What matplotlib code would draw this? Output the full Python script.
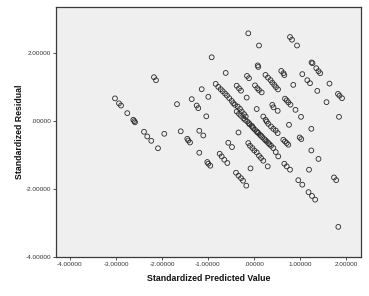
import matplotlib
matplotlib.use("Agg")
import matplotlib.pyplot as plt
from matplotlib.ticker import FuncFormatter

# Standardized predicted values (x) and standardized residuals (y)
pred = [
    -3.022, -2.935, -2.891, -2.754, -2.624, -2.602, -2.587, -2.391, -2.320, -2.233,
    -2.174, -2.130, -1.950, -2.087, -1.674, -1.593, -1.354, -1.246, -1.211, -1.137,
    -0.993, -1.037, -0.920, -0.615, -1.450, -1.428, -1.391, -1.189, -1.102, -1.189,
    -1.015, -0.993, -0.950, -0.559, -0.478, -0.746, -0.702, -0.646, -0.580, -0.391,
    -0.337, -0.283, -0.239, -0.167, -0.337, -0.124, -0.087, -0.037, -0.124, 0.109,
    0.783, 0.826, 0.935, 0.080, 0.093, -0.152, -0.109, 0.250, 0.304, 0.359,
    0.398, 0.441, 0.478, 0.522, 0.593, 0.641, 0.659, 1.050, 1.159, 1.217,
    1.641, 0.854, 1.376, 1.826, 1.859, 1.913, 1.250, 1.272, 1.354, 1.402,
    1.439, 1.576, -0.376, -0.326, -0.283, 0.022, 0.072, 0.109, 0.167, -0.159,
    0.674, 0.711, 0.746, 0.793, 0.398, 0.515, 0.059, 0.902, 1.022, 1.848,
    0.202, 0.254, 0.276, 0.311, 0.370, 0.420, 0.472, 0.515, 0.761, 1.246,
    0.637, 0.674, 0.711, 0.746, 0.993, 1.028, 0.007, 0.059, 0.109, 0.152,
    0.202, 0.298, -0.076, 0.659, 0.711, 0.783, 0.963, 1.050, 1.196, 1.185,
    1.261, 1.330, 1.246, 1.402, 1.739, 1.787, 1.833, 0.424,
    -0.376, -0.326, -0.283, -0.233, -0.196, -0.146, -0.109,
    -0.833, -0.776, -0.724, -0.680, -0.630, -0.587, -0.537, -0.485, -0.450, -0.413,
    -0.354, -0.304, -0.267, -0.217, -0.180,
    -0.050, -0.015, 0.022, 0.059, 0.093, 0.130, 0.180, 0.224, 0.276, 0.311,
    0.370, 0.420, 0.472, 0.528, -0.033, 0.076, 0.152, 0.250, 0.337, -0.098,
]
resid = [
    0.676, 0.529, 0.465, 0.241, 0.044, 0.006, -0.029, -0.309, -0.447, -0.574,
    1.300, 1.212, -0.368, -0.794, 0.506, -0.294, 0.653, 0.465, 0.388, 0.947,
    0.721, 0.147, 1.888, 1.426, -0.515, -0.565, -0.624, -0.279, -0.418, -0.926,
    -1.200, -1.250, -1.309, -0.632, -0.759, -0.956, -1.035, -1.132, -1.229, -1.515,
    -1.603, -1.676, -1.750, -1.897, -0.329, -0.641, -0.721, -0.788, 2.594, 2.235,
    2.485, 2.406, 2.235, 1.647, 1.603, 1.338, 1.271, 1.368, 1.288, 1.215,
    1.141, 1.074, 1.009, 0.941, 1.485, 1.418, 1.362, 1.391, 1.212, 1.124,
    1.112, 1.074, 0.897, 0.809, 0.756, 0.682, 1.735, 1.712, 1.565, 1.479,
    1.418, 0.565, 1.050, 0.971, 0.903, 1.059, 0.976, 0.921, 0.853, 0.700,
    0.668, 0.618, 0.559, 0.491, 0.485, 0.309, 0.362, 0.338, 0.132, 0.132,
    0.141, 0.044, -0.006, -0.074, -0.153, -0.221, -0.271, -0.347, -0.103, -0.221,
    -0.544, -0.594, -0.641, -0.691, -0.476, -0.524, -0.859, -0.918, -1.015, -1.082,
    -1.162, -1.329, -1.388, -1.250, -1.329, -1.426, -1.735, -1.868, -1.426, -2.088,
    -2.200, -2.309, -0.859, -1.109, -1.656, -1.735, -3.112, 0.412,
    0.288, 0.221, 0.162, 0.094, 0.044, -0.006, -0.053,
    1.103, 1.015, 0.947, 0.888, 0.818, 0.759, 0.682, 0.603, 0.535, 0.485,
    0.435, 0.368, 0.288, 0.212, 0.141,
    -0.132, -0.200, -0.250, -0.300, -0.347, -0.397, -0.465, -0.524, -0.594, -0.641,
    -0.721, -0.788, -0.906, -1.035, -0.162, -0.324, -0.426, -0.559, -0.676, -0.088,
]

x_ticks = [-4, -3, -2, -1, 0, 1, 2]
y_ticks = [-4, -2, 0, 2]
x_label = "Standardized Predicted Value"
y_label = "Standardized Residual"


def spss_fmt(v, pos=None):
    s = f"{v:.5f}"
    if s.startswith("0."):
        s = s[1:]
    elif s.startswith("-0."):
        s = "-" + s[2:]
    return s


plt.rcParams["font.family"] = ["Liberation Sans", "DejaVu Sans"]

fig = plt.figure(figsize=(3.69, 2.96), dpi=100)
fig.patch.set_facecolor("white")
ax = fig.add_axes([56 / 369, 39 / 296, 305 / 369, 250 / 296])
ax.set_facecolor("#efefef")

ax.scatter(pred, resid, s=12, facecolors="none", edgecolors="#2a2a2a",
           linewidths=0.6, zorder=3)

ax.set_xlim(-4.304, 2.326)
ax.set_ylim(-4.0, 3.37)
ax.set_xticks(x_ticks)
ax.set_yticks(y_ticks)
ax.xaxis.set_major_formatter(FuncFormatter(spss_fmt))
ax.yaxis.set_major_formatter(FuncFormatter(spss_fmt))
ax.tick_params(axis="both", direction="out", length=2.2, width=0.6,
               colors="#333333", labelsize=4.6, pad=1.2, labelcolor="#333333")

for sp in ax.spines.values():
    sp.set_color("#3a3a3a")
    sp.set_linewidth(0.9)

ax.set_xlabel(x_label, fontsize=6.3, fontweight="bold", labelpad=5, color="#111111")
ax.set_ylabel(y_label, fontsize=6.3, fontweight="bold", labelpad=1.5, color="#111111")

fig.savefig("out.png", dpi=100)
